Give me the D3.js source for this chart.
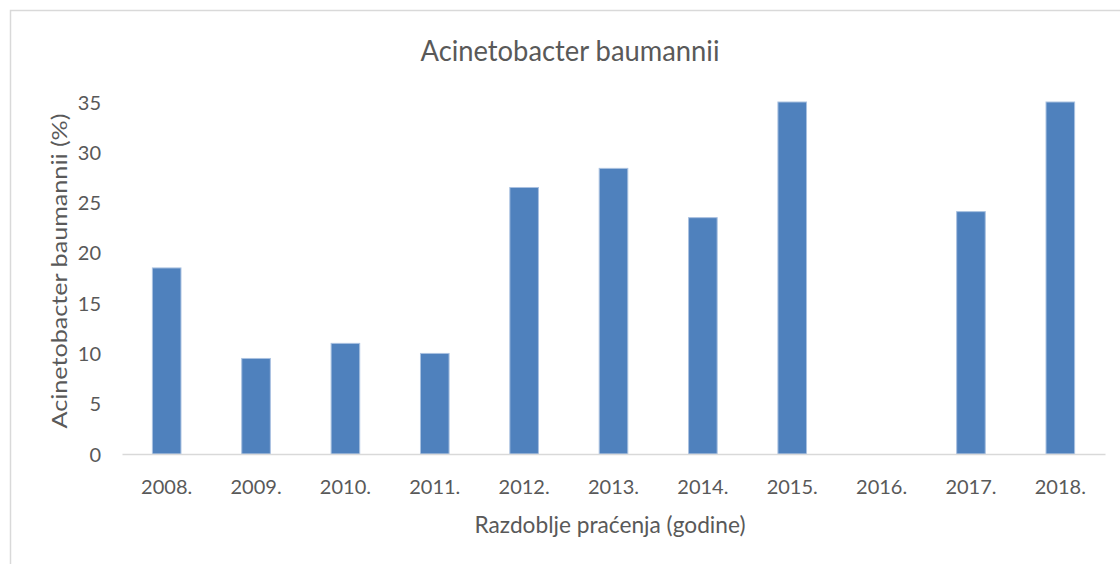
<!DOCTYPE html>
<html>
<head>
<meta charset="utf-8">
<script src="https://cdn.jsdelivr.net/npm/d3@7"></script>
<style>
html,body{margin:0;padding:0;background:#fff;}
svg{display:block;}
text{font-family:Lato,"Open Sans",sans-serif;fill:#595959;}
</style>
</head>
<body>
<svg id="chart" width="1120" height="564"></svg>
<script>
const categories = ["2008.","2009.","2010.","2011.","2012.","2013.","2014.","2015.","2016.","2017.","2018."];
const values = [18.5, 9.5, 11, 10, 26.5, 28.4, 23.5, 35, 0, 24.1, 35];
const yTicks = [0,5,10,15,20,25,30,35];
const title = "Acinetobacter baumannii";
const xTitle = "Razdoblje praćenja (godine)";
const yTitle = "Acinetobacter baumannii (%)";

const svg = d3.select("#chart");
const W = 1120, H = 564;
const m = {left:122, right:15, top:102, bottom:110};

// outer border
svg.append("rect").attr("x",10.5).attr("y",10.5).attr("width",W+20).attr("height",H+20)
  .attr("fill","none").attr("stroke","#D9D9D9").attr("stroke-width",1.5);

const x = d3.scaleBand().domain(categories).range([m.left, W-m.right])
  .paddingInner(0.68).paddingOuter(0.34);
const y = d3.scaleLinear().domain([0,35]).range([H-m.bottom, m.top]);

// bars
svg.append("g").selectAll("rect").data(categories).join("rect")
  .attr("x", d=>x(d))
  .attr("width", x.bandwidth())
  .attr("y", (d,i)=>y(values[i]))
  .attr("height", (d,i)=>y(0)-y(values[i]))
  .attr("fill","#4F81BD")
  .attr("stroke", (d,i)=> values[i]>0 ? "#A9C1E0" : "none")
  .attr("stroke-width",1);

// x axis
const xAxis = svg.append("g").attr("transform",`translate(0,${y(0)})`)
  .call(d3.axisBottom(x).tickSize(0).tickPadding(0));
xAxis.select(".domain").attr("stroke","#D9D9D9").attr("stroke-width",1.5);
xAxis.selectAll("text").attr("font-size",20).attr("dy",null).attr("y",40)
  .style("font-family","Lato,sans-serif").attr("fill","#595959");

// y axis
const yAxis = svg.append("g").attr("transform",`translate(${m.left},0)`)
  .call(d3.axisLeft(y).tickValues(yTicks).tickSize(0).tickPadding(21));
yAxis.select(".domain").remove();
yAxis.selectAll("text").attr("font-size",20).attr("dy","0.35em")
  .style("font-family","Lato,sans-serif").attr("fill","#595959");

// titles
svg.append("text").attr("x",570).attr("y",61).attr("text-anchor","middle")
  .attr("font-size",28).attr("textLength",299).attr("lengthAdjust","spacingAndGlyphs").text(title);
svg.append("text").attr("x",610).attr("y",533).attr("text-anchor","middle")
  .attr("font-size",24).attr("textLength",271).attr("lengthAdjust","spacingAndGlyphs").text(xTitle);
svg.append("text").attr("transform","translate(67,271) rotate(-90)").attr("text-anchor","middle")
  .attr("font-size",22).attr("textLength",315).attr("lengthAdjust","spacingAndGlyphs").text(yTitle);
</script>
</body>
</html>
